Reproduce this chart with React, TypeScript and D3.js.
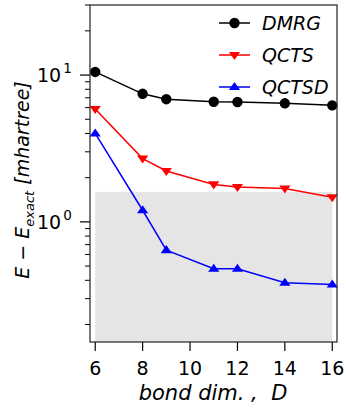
import { useEffect, useRef } from 'react';
import * as d3 from 'd3';

const bondDims = [6, 8, 9, 11, 12, 14, 16];
const dmrg = [10.5, 7.45, 6.85, 6.58, 6.55, 6.42, 6.22];
const qcts = [5.87, 2.7, 2.22, 1.8, 1.73, 1.69, 1.47];
const qctsd = [4.0, 1.2, 0.642, 0.479, 0.48, 0.385, 0.375];
const xTicks = [6, 8, 10, 12, 14, 16];
const yMajor = [1, 10];
const shadeBox = { x0: 6, x1: 16, yTop: 1.6 };

const series = [
  { name: 'DMRG', values: dmrg, color: '#000000', marker: 'circle' },
  { name: 'QCTS', values: qcts, color: '#ff0000', marker: 'down' },
  { name: 'QCTSD', values: qctsd, color: '#0000ff', marker: 'up' },
];

export default function App() {
  const svgRef = useRef<SVGSVGElement>(null);

  useEffect(() => {
    if (!svgRef.current) return;
    const svg = d3.select(svgRef.current);
    svg.selectAll('*').remove();

    const width = 346;
    const height = 410;
    const margin = { top: 5, right: 9, bottom: 68, left: 90 };
    const innerWidth = width - margin.left - margin.right;
    const innerHeight = height - margin.top - margin.bottom;
    const font = 'DejaVu Sans, sans-serif';

    const x = d3.scaleLinear().domain([5.78, 16.2]).range([0, innerWidth]);
    const y = d3.scaleLog().domain([0.152, 30]).range([innerHeight, 0]);

    const g = svg.append('g').attr('transform', `translate(${margin.left},${margin.top})`);

    // shaded region
    g.append('rect')
      .attr('x', x(shadeBox.x0))
      .attr('y', y(shadeBox.yTop))
      .attr('width', x(shadeBox.x1) - x(shadeBox.x0))
      .attr('height', innerHeight - y(shadeBox.yTop))
      .attr('fill', '#e5e5e5');

    // x axis
    const xAxis = g.append('g').attr('transform', `translate(0,${innerHeight})`);
    xTicks.forEach(t => {
      xAxis.append('line')
        .attr('x1', x(t)).attr('x2', x(t))
        .attr('y1', 0).attr('y2', 9)
        .attr('stroke', '#000').attr('stroke-width', 1.2);
      xAxis.append('text')
        .attr('x', x(t)).attr('y', 33)
        .attr('text-anchor', 'middle')
        .attr('font-family', font).attr('font-size', 19)
        .text(t);
    });

    // y axis: minor ticks
    const [lo, hi] = y.domain();
    const minors: number[] = [];
    for (let p = -1; p <= 1; p++) {
      for (let k = 2; k <= 9; k++) {
        const v = k * Math.pow(10, p);
        if (v >= lo && v <= hi) minors.push(v);
      }
    }
    minors.forEach(v => {
      g.append('line')
        .attr('x1', -5).attr('x2', 0)
        .attr('y1', y(v)).attr('y2', y(v))
        .attr('stroke', '#000').attr('stroke-width', 1);
    });
    yMajor.forEach(v => {
      g.append('line')
        .attr('x1', -10).attr('x2', 0)
        .attr('y1', y(v)).attr('y2', y(v))
        .attr('stroke', '#000').attr('stroke-width', 1.2);
      const t = g.append('text')
        .attr('x', -53).attr('y', y(v) + 7)
        .attr('font-family', font).attr('font-size', 19);
      t.append('tspan').text('10');
      t.append('tspan').attr('dx', 2).attr('dy', -9).attr('font-size', 13.5).text(Math.round(Math.log10(v)));
    });

    // lines and markers
    const line = d3.line<number>()
      .x((_, i) => x(bondDims[i]))
      .y(d => y(d));

    const tri = (cx: number, cy: number, s: number, down: boolean) => {
      const h = s * 0.9;
      return down
        ? `M${cx - s},${cy - h * 0.6}L${cx + s},${cy - h * 0.6}L${cx},${cy + h}Z`
        : `M${cx - s},${cy + h * 0.6}L${cx + s},${cy + h * 0.6}L${cx},${cy - h}Z`;
    };

    const drawMarker = (sel: any, m: string, cx: number, cy: number, color: string) => {
      if (m === 'circle') {
        sel.append('circle').attr('cx', cx).attr('cy', cy).attr('r', 5.2).attr('fill', color);
      } else {
        sel.append('path').attr('d', tri(cx, cy, 5.6, m === 'down')).attr('fill', color);
      }
    };

    series.forEach(s => {
      g.append('path')
        .datum(s.values)
        .attr('fill', 'none')
        .attr('stroke', s.color)
        .attr('stroke-width', 1.5)
        .attr('d', line);
      const mg = g.append('g');
      s.values.forEach((v, i) => drawMarker(mg, s.marker, x(bondDims[i]), y(v), s.color));
    });

    // frame
    g.append('rect')
      .attr('width', innerWidth).attr('height', innerHeight)
      .attr('fill', 'none').attr('stroke', '#222').attr('stroke-width', 1.2);

    // legend
    const lg = g.append('g').attr('transform', `translate(${219 - margin.left},${18})`);
    series.forEach((s, i) => {
      const row = lg.append('g').attr('transform', `translate(0,${i * 32})`);
      row.append('line')
        .attr('x1', 0).attr('x2', 31).attr('y1', 0).attr('y2', 0)
        .attr('stroke', s.color).attr('stroke-width', 1.5);
      drawMarker(row, s.marker, 15.5, 0, s.color);
      row.append('text')
        .attr('x', 43).attr('y', 7)
        .attr('font-family', font).attr('font-size', 19).attr('font-style', 'italic')
        .text(s.name);
    });

    // x label
    svg.append('text')
      .attr('x', 213).attr('y', 400)
      .attr('text-anchor', 'middle')
      .attr('font-family', font).attr('font-size', 21).attr('font-style', 'italic')
      .attr('xml:space', 'preserve')
      .text('bond dim. ,  D');

    // y label
    const yl = svg.append('text')
      .attr('transform', 'translate(29,180) rotate(-90)')
      .attr('text-anchor', 'middle')
      .attr('font-family', font).attr('font-size', 19).attr('font-style', 'italic');
    yl.append('tspan').text('E');
    yl.append('tspan').attr('font-style', 'normal').text(' \u2212 ');
    yl.append('tspan').text('E');
    yl.append('tspan').attr('font-size', 13).attr('dy', 5).text('exact');
    yl.append('tspan').attr('dy', -5).text(' [mhartree]');
  }, []);

  return (
    <svg
      ref={svgRef}
      width={346}
      height={410}
      style={{ position: 'absolute', left: 0, top: 0, background: '#fff' }}
    />
  );
}
